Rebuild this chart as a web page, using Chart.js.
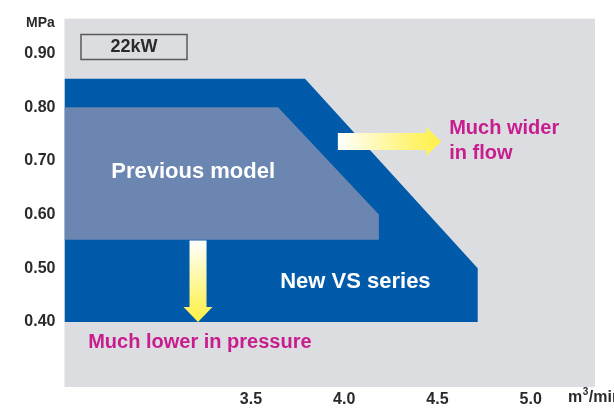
<!DOCTYPE html>
<html>
<head>
<meta charset="utf-8">
<script src="https://cdn.jsdelivr.net/npm/chart.js@4.4.1/dist/chart.umd.min.js"></script>
<style>
  html, body { margin: 0; padding: 0; background: #fff; }
  #wrap { width: 614px; height: 410px; }
</style>
</head>
<body>
<div id="wrap"><canvas id="chart" width="614" height="410"></canvas></div>
<script>
// axis ticks
const flowTicks = [3.5, 4.0, 4.5, 5.0];
const pressureTicks = [0.40, 0.50, 0.60, 0.70, 0.80, 0.90];

// operating ranges (flow m3/min, pressure MPa), closed outlines
const newVsFlow = [2.5, 2.5, 3.79, 4.716, 4.716, 2.5];
const newVsPressure = [0.40, 0.853, 0.853, 0.50, 0.40, 0.40];
const prevFlow = [2.5, 2.5, 3.645, 4.186, 4.186, 2.5];
const prevPressure = [0.553, 0.80, 0.80, 0.60, 0.553, 0.553];

// arrows: [flow, pressure] start -> end
const flowArrow = [[3.966, 0.736], [4.52, 0.736]];
const pressureArrow = [[3.216, 0.552], [3.216, 0.40]];

const FONT = "'Liberation Sans', Arial, sans-serif";
const BG = '#dcdde0';
const MAGENTA = '#c81d8e';

function toPoints(xs, ys) {
    return xs.map((x, i) => ({ x: x, y: ys[i] }));
}

// gray plot background
const backgroundPlugin = {
    id: 'plotBackground',
    beforeDraw(chart) {
        const { ctx, chartArea: a } = chart;
        ctx.save();
        ctx.fillStyle = BG;
        ctx.fillRect(a.left, a.top, a.right - a.left, a.bottom - a.top);
        ctx.restore();
    }
};

function drawArrow(ctx, x1, y1, x2, y2) {
    const len = Math.hypot(x2 - x1, y2 - y1);
    const ang = Math.atan2(y2 - y1, x2 - x1);
    const shaft = 8.5, headW = 14.5, headL = 15;
    ctx.save();
    ctx.translate(x1, y1);
    ctx.rotate(ang);
    const grad = ctx.createLinearGradient(0, 0, len, 0);
    grad.addColorStop(0, '#ffffff');
    grad.addColorStop(0.75, '#fff36b');
    grad.addColorStop(1, '#fff04a');
    ctx.fillStyle = grad;
    ctx.beginPath();
    ctx.moveTo(0, -shaft);
    ctx.lineTo(len - headL, -shaft);
    ctx.lineTo(len - headL, -headW);
    ctx.lineTo(len, 0);
    ctx.lineTo(len - headL, headW);
    ctx.lineTo(len - headL, shaft);
    ctx.lineTo(0, shaft);
    ctx.closePath();
    ctx.fill();
    ctx.restore();
}

// arrows and labels
const annotationPlugin = {
    id: 'annotations',
    afterDatasetsDraw(chart) {
        const { ctx, scales: { x, y } } = chart;
        ctx.save();

        drawArrow(ctx,
            x.getPixelForValue(flowArrow[0][0]), y.getPixelForValue(flowArrow[0][1]),
            x.getPixelForValue(flowArrow[1][0]), y.getPixelForValue(flowArrow[1][1]));
        drawArrow(ctx,
            x.getPixelForValue(pressureArrow[0][0]), y.getPixelForValue(pressureArrow[0][1]),
            x.getPixelForValue(pressureArrow[1][0]), y.getPixelForValue(pressureArrow[1][1]));

        ctx.textBaseline = 'middle';

        // series names
        ctx.fillStyle = '#ffffff';
        ctx.font = 'bold 22px ' + FONT;
        ctx.textAlign = 'center';
        ctx.fillText('Previous model', x.getPixelForValue(3.19), y.getPixelForValue(0.679));
        ctx.fillText('New VS series', x.getPixelForValue(4.06), y.getPixelForValue(0.475));

        // callouts
        ctx.fillStyle = MAGENTA;
        ctx.font = 'bold 20px ' + FONT;
        ctx.textAlign = 'left';
        ctx.fillText('Much wider', x.getPixelForValue(4.563), y.getPixelForValue(0.76));
        ctx.fillText('in flow', x.getPixelForValue(4.563), y.getPixelForValue(0.714));
        ctx.fillText('Much lower in pressure', x.getPixelForValue(2.627), y.getPixelForValue(0.362));

        // power box
        ctx.strokeStyle = '#5a5a5a';
        ctx.lineWidth = 1.5;
        ctx.strokeRect(81, 34.5, 106, 25);
        ctx.fillStyle = '#2a2a2a';
        ctx.font = 'bold 18px ' + FONT;
        ctx.textAlign = 'center';
        ctx.fillText('22kW', 134, 47.5);

        // axis units
        ctx.font = 'bold 14px ' + FONT;
        ctx.textAlign = 'left';
        ctx.fillText('MPa', 26, 23);
        ctx.font = 'bold 16px ' + FONT;
        ctx.fillText('m', 568, 398);
        const mw = ctx.measureText('m').width;
        ctx.font = 'bold 10px ' + FONT;
        ctx.fillText('3', 568 + mw + 0.5, 392);
        const sw = ctx.measureText('3').width;
        ctx.font = 'bold 16px ' + FONT;
        ctx.fillText('/min', 568 + mw + sw + 1, 398);

        ctx.restore();
    }
};

const ctx = document.getElementById('chart').getContext('2d');
window.rangeChart = new Chart(ctx, {
    type: 'scatter',
    data: {
        datasets: [{
            label: 'New VS series',
            data: toPoints(newVsFlow, newVsPressure),
            showLine: true,
            fill: 'shape',
            backgroundColor: '#005aaa',
            borderColor: 'rgba(0,0,0,0)',
            borderWidth: 0,
            pointRadius: 0,
            order: 1
        }, {
            label: 'Previous model',
            data: toPoints(prevFlow, prevPressure),
            showLine: true,
            fill: 'shape',
            backgroundColor: '#6a86b1',
            borderColor: 'rgba(0,0,0,0)',
            borderWidth: 0,
            pointRadius: 0,
            order: 0
        }]
    },
    options: {
        responsive: false,
        animation: false,
        layout: { padding: { top: 18, right: 19, bottom: 0, left: 0 } },
        plugins: {
            legend: { display: false },
            tooltip: { enabled: false }
        },
        scales: {
            x: {
                type: 'linear',
                min: 2.5,
                max: 5.345,
                grid: { display: false, drawTicks: false },
                border: { display: false },
                afterBuildTicks: s => { s.ticks = flowTicks.map(v => ({ value: v })); },
                afterFit: s => { s.height = 23; },
                ticks: {
                    padding: 3,
                    color: '#2a2a2a',
                    font: { family: FONT, size: 16, weight: 'bold' },
                    callback: v => v.toFixed(1)
                }
            },
            y: {
                type: 'linear',
                min: 0.279,
                max: 0.965,
                grid: { display: false, drawTicks: false },
                border: { display: false },
                afterBuildTicks: s => { s.ticks = pressureTicks.map(v => ({ value: v })); },
                afterFit: s => { s.width = 64.5; },
                ticks: {
                    padding: 9,
                    color: '#2a2a2a',
                    font: { family: FONT, size: 16, weight: 'bold' },
                    callback: v => v.toFixed(2)
                }
            }
        }
    },
    plugins: [backgroundPlugin, annotationPlugin]
});
</script>
</body>
</html>
